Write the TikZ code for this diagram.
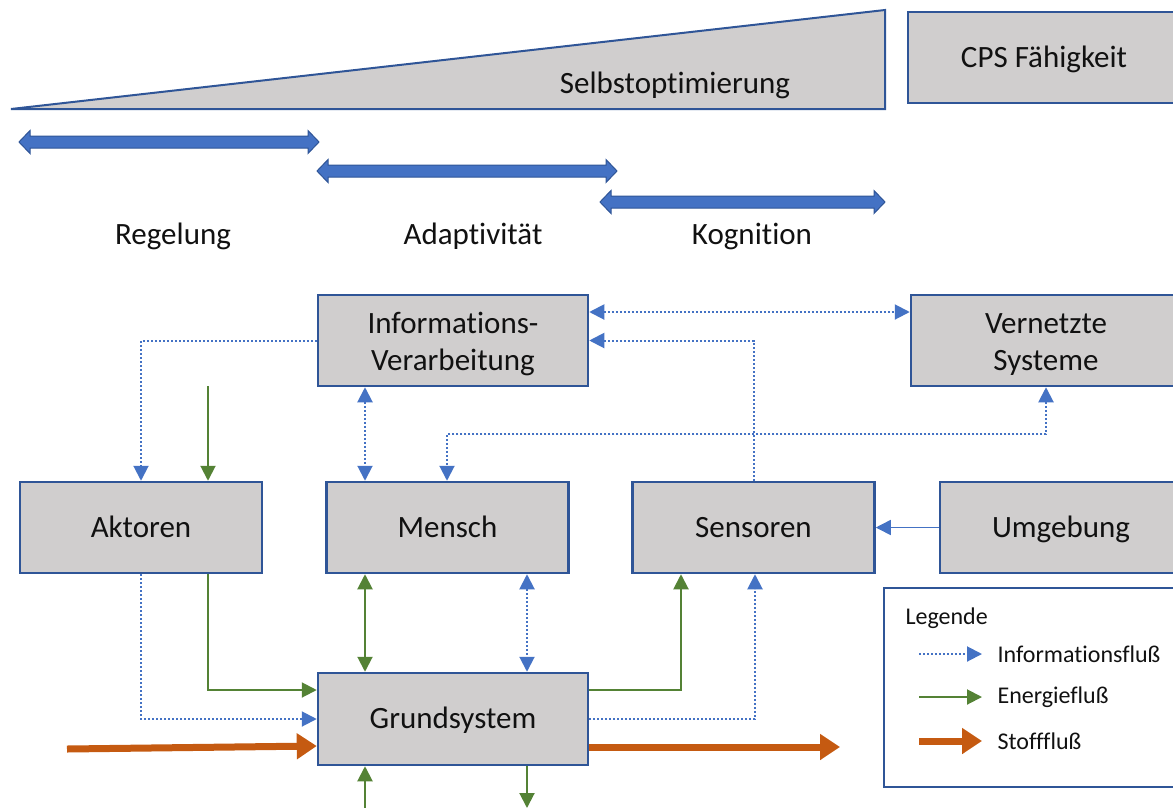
\documentclass[tikz,border=0pt]{standalone}
\usepackage{fontspec}
\setmainfont{Carlito}[Ligatures=NoCommon]
\usetikzlibrary{arrows.meta}

\definecolor{boxfill}{HTML}{D0CECE}
\definecolor{boxline}{HTML}{2F5597}
\definecolor{infoblue}{HTML}{4472C4}
\definecolor{energygreen}{HTML}{548235}
\definecolor{stofforange}{HTML}{C55A11}
\definecolor{textdark}{HTML}{111111}

% horizontal double-headed block arrow: left x, right x, centre y
\newcommand\rangearrow[3]{%
  \filldraw[fill=infoblue, draw=boxline, line width=1pt]
    (#1,#3) -- (#1+11,#3-11.5) -- (#1+11,#3-6) -- (#2-11,#3-6) -- (#2-11,#3-11.5)
    -- (#2,#3) -- (#2-11,#3+11.5) -- (#2-11,#3+6) -- (#1+11,#3+6) -- (#1+11,#3+11.5) -- cycle;}

\tikzset{
  bigfont/.style={font=\fontsize{31}{37}\selectfont, text=textdark},
  smallfont/.style={font=\fontsize{24}{28}\selectfont, text=textdark},
  block/.style={draw=boxline, line width=2.5pt, fill=boxfill, inner sep=0pt,
                align=center, bigfont, text height=25pt, text depth=6pt},
  twoline/.style={text height=65pt, text depth=6pt},
  tip/.style={-{Triangle[length=15pt,width=15pt]}},
  bitip/.style={{Triangle[length=15pt,width=15pt]}-{Triangle[length=15pt,width=15pt]}},
  info/.style={draw=infoblue, line width=2pt, dash pattern=on 2pt off 2pt},
  energy/.style={draw=energygreen, line width=2pt},
  signal/.style={draw=infoblue, line width=1.5pt},
  stoff/.style={draw=stofforange, line width=7pt,
                -{Triangle[length=20pt,width=25pt]}},
}

\begin{document}
\begin{tikzpicture}[x=1pt, y=-1pt]
\useasboundingbox (0,0) rectangle (1173,807);

% ---- capability scale ----
\filldraw[fill=boxfill, draw=boxline, line width=2pt]
  (11,109) -- (885,10) -- (885,109) -- cycle;
\node[bigfont, anchor=base] (selbst) at (675,93) {Selbstoptimierung};
\node[block, minimum width=272pt, minimum height=91pt] (cps) at (1044,57.5) {CPS Fähigkeit};

\rangearrow{19}{319}{142}
\rangearrow{317}{617}{171}
\rangearrow{600}{885}{202}

\node[bigfont, anchor=base] (regel) at (173,244) {Regelung};
\node[bigfont, anchor=base] (adapt) at (473,244) {Adaptivität};
\node[bigfont, anchor=base] (kogn) at (752,244) {Kognition};

% ---- system blocks ----
\node[block, twoline, minimum width=270pt, minimum height=91pt] (iv)  at (453,340.5) {Informations-\\Verarbeitung};
\node[block, twoline, minimum width=270pt, minimum height=91pt] (vs)  at (1046,340.5) {Vernetzte\\Systeme};
\node[block, minimum width=242pt, minimum height=91pt] (akt) at (141,527.5) {Aktoren};
\node[block, minimum width=242pt, minimum height=91pt] (men) at (447.5,527.5) {Mensch};
\node[block, minimum width=242pt, minimum height=91pt] (sen) at (753.5,527.5) {Sensoren};
\node[block, minimum width=242pt, minimum height=91pt] (umg) at (1061,527.5) {Umgebung};
\node[block, minimum width=270pt, minimum height=92pt] (gs)  at (453,719) {Grundsystem};

% helper columns and rows
\coordinate (c208) at (208,0);
\coordinate (c365) at (365,0);
\coordinate (c447) at (447,0);
\coordinate (c527) at (527,0);
\coordinate (c681) at (681,0);
\coordinate (c755) at (755,0);
\coordinate (r312) at (0,312);
\coordinate (r434) at (0,434);
\coordinate (r690) at (0,690);
\coordinate (r745) at (0,746);
\coordinate (g-in) at (208,386);
\coordinate (st-in) at (67,749);
\coordinate (st-out) at (840,747);
\coordinate (e-in) at (365,810);
\coordinate (e-out) at (527,808);

% ---- information flow ----
\draw[info, tip] (iv.west) -| (akt.north);
\draw[info, bitip] (iv.south -| c365) -- (men.north -| c365);
\draw[info, bitip] (vs.south) -- (vs.south |- r434) -| (men.north -| c447);
\draw[info, tip] (sen.north) |- (iv.east);
\draw[info, bitip] (iv.east |- r312) -- (vs.west |- r312);
\draw[signal, tip] (umg.west) -- (sen.east);
\draw[info, tip] (akt.south) |- (gs.west);
\draw[info, bitip] (men.south -| c527) -- (gs.north -| c527);
\draw[info, tip] (gs.east) -| (sen.south -| c755);

% ---- energy flow ----
\draw[energy, tip] (g-in) -- (akt.north -| g-in);
\draw[energy, tip] (akt.south -| c208) |- (gs.west |- r690);
\draw[energy, bitip] (men.south -| c365) -- (gs.north -| c365);
\draw[energy, tip] (gs.east |- r690) -| (sen.south -| c681);
\draw[energy, tip] (e-in) -- (gs.south -| e-in);
\draw[energy, tip] (gs.south -| e-out) -- (e-out);

% ---- material flow ----
\draw[stoff] (st-in) -- (gs.west |- r745);
\draw[stoff] (gs.east |- st-out) -- (st-out);

% ---- legend ----
\node[draw=boxline, line width=2pt, minimum width=296pt, minimum height=199pt, inner sep=0pt] (leg) at (1032,687.5) {};
\node[smallfont, anchor=west] (legtitle) at (902,618) {Legende};
\coordinate (l1a) at (919,654); \coordinate (l1b) at (982,654);
\coordinate (l2a) at (919,697); \coordinate (l2b) at (982,697);
\coordinate (l3a) at (919,741); \coordinate (l3b) at (982,741);
\draw[info, tip] (l1a) -- (l1b);
\draw[energy, tip] (l2a) -- (l2b);
\draw[stoff] (l3a) -- (l3b);
\node[smallfont, anchor=west] (lt1) at (994,654) {Informationsfluß};
\node[smallfont, anchor=west] (lt2) at (994,697) {Energiefluß};
\node[smallfont, anchor=west] (lt3) at (994,741) {Stofffluß};
\end{tikzpicture}
\end{document}
